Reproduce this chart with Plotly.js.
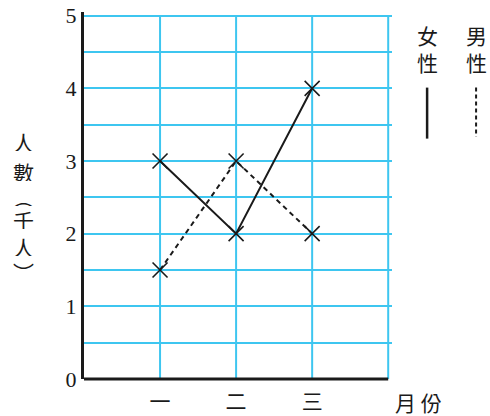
<!DOCTYPE html>
<html>
<head>
<meta charset="utf-8">
<script src="https://cdn.plot.ly/plotly-3.0.1.min.js"></script>
<style>html,body{margin:0;padding:0;background:#fff;}#chart{width:490px;height:416px;}</style>
</head>
<body>
<div id="chart"></div>
<script>
const months = ['一', '二', '三'];
const monthPos = [1, 2, 3];
const female = [3, 2, 4];
const male = [1.5, 3, 2];
const yTickVals = [0, 1, 2, 3, 4, 5];
const yTickText = ['0', '1', '2', '3', '4', '5'];
const femaleLabel = '女<br>性';
const maleLabel = '男<br>性';
const yTitleChars = ['人', '數', '︵', '千', '人', '︶'];
const xTitle = '月 份';

const serif = 'Liberation Serif, DejaVu Serif, Noto Sans CJK TC, serif';
const cjk = 'Noto Sans CJK TC, Noto Sans CJK SC, sans-serif';
const grid = '#3ec6f0';
const ink = '#1a1a1a';

const markerStyle = {symbol: 'x-thin', size: 15, color: ink, line: {width: 1.6, color: ink}};

const traces = [
  {x: monthPos, y: female, type: 'scatter', mode: 'lines+markers', name: '女性',
   line: {color: ink, width: 2}, marker: markerStyle, cliponaxis: false},
  {x: monthPos, y: male, type: 'scatter', mode: 'lines+markers', name: '男性',
   line: {color: ink, width: 2, dash: '5px,4px'}, marker: markerStyle, cliponaxis: false}
];

// vertical title: one annotation per character
const titleYs = [0.6465, 0.5646, 0.4965, 0.4337, 0.360, 0.2919];
const titleAnns = yTitleChars.map((c, i) => ({
  text: c, xref: 'paper', yref: 'paper', x: -0.196, y: titleYs[i], showarrow: false,
  font: {family: cjk, size: 21, color: ink}, xanchor: 'center', yanchor: 'middle',
  height: 18, borderpad: 0
}));

const gridShapes = [1, 2, 3, 4].map(v => ({
  type: 'line', xref: 'x', yref: 'paper', x0: v, x1: v, y0: 0, y1: 0.99,
  line: {color: grid, width: 2}, layer: 'below'
}));

const layout = {
  width: 490, height: 416,
  margin: {l: 84, r: 98, t: 12, b: 37},
  paper_bgcolor: '#fff', plot_bgcolor: '#fff',
  showlegend: false,
  xaxis: {
    range: [0, 4.05], tickvals: monthPos, ticktext: months,
    showgrid: false, zeroline: false, showline: false,
    ticks: 'outside', ticklen: 4, tickcolor: 'rgba(0,0,0,0)',
    tickfont: {family: cjk, size: 21, color: ink}
  },
  yaxis: {
    range: [0, 5.05], tickvals: yTickVals, ticktext: yTickText,
    showgrid: true, gridcolor: grid, gridwidth: 2, zeroline: false,
    showline: true, linecolor: ink, linewidth: 3,
    ticks: '', tickfont: {family: serif, size: 22, color: ink},
    minor: {dtick: 0.5, tick0: 0, showgrid: true, gridcolor: grid, gridwidth: 2, ticks: ''}
  },
  shapes: gridShapes.concat([
    {type: 'line', xref: 'x', yref: 'paper', x0: 0, x1: 4, y0: 0, y1: 0, line: {color: ink, width: 3}},
    {type: 'line', xref: 'paper', yref: 'paper', x0: 1.114, x1: 1.114, y0: 0.794, y1: 0.655, line: {color: ink, width: 2.5}},
    {type: 'line', xref: 'paper', yref: 'paper', x0: 1.273, x1: 1.273, y0: 0.794, y1: 0.66, line: {color: ink, width: 2, dash: '4px,3px'}}
  ]),
  annotations: [
    {text: femaleLabel, xref: 'paper', yref: 'paper', x: 1.114, y: 0.9, showarrow: false,
     font: {family: cjk, size: 21, color: ink}, xanchor: 'center', yanchor: 'middle'},
    {text: maleLabel, xref: 'paper', yref: 'paper', x: 1.273, y: 0.9, showarrow: false,
     font: {family: cjk, size: 21, color: ink}, xanchor: 'center', yanchor: 'middle'},
    {text: xTitle, xref: 'paper', yref: 'paper', x: 1.087, y: -0.062, showarrow: false,
     font: {family: cjk, size: 21, color: ink}, xanchor: 'center', yanchor: 'middle'}
  ].concat(titleAnns)
};

Plotly.newPlot('chart', traces, layout, {displayModeBar: false, staticPlot: true});
</script>
</body>
</html>
